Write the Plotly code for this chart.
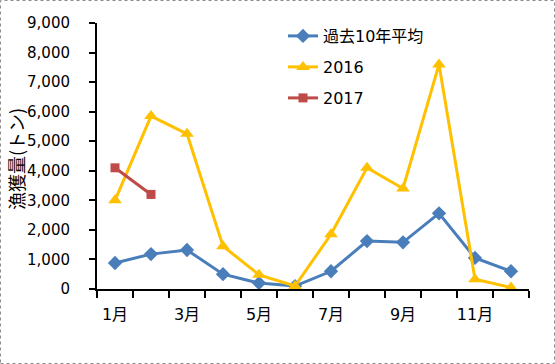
import plotly.graph_objects as go

months = ["1月", "2月", "3月", "4月", "5月", "6月", "7月", "8月", "9月", "10月", "11月", "12月"]
tick_text = ["1月", "", "3月", "", "5月", "", "7月", "", "9月", "", "11月", ""]
avg10 = [880, 1180, 1320, 500, 200, 100, 600, 1620, 1580, 2560, 1050, 600]
y2016 = [3000, 5850, 5250, 1450, 480, 100, 1850, 4100, 3400, 7600, 330, 50]
y2017 = [4100, 3200]
series_names = ["過去10年平均", "2016", "2017"]
y_title = "漁獲量(トン)"

FONT = "DejaVu Sans, Noto Sans CJK JP"

L, R, T, B = 97, 26, 23, 75
W, H = 555, 364
pw, ph = W - L - R, H - T - B


def py(y_pix):
    return (H - B - y_pix) / ph


def px(x_pix):
    return (x_pix - L) / pw


fig = go.Figure()
fig.add_trace(go.Scatter(x=months, y=avg10, name=series_names[0], mode="lines+markers",
                         line=dict(color="#4A7EBB", width=3),
                         marker=dict(symbol="diamond", size=11, color="#4A7EBB"),
                         legend="legend"))
fig.add_trace(go.Scatter(x=months, y=y2016, name=series_names[1], mode="lines+markers",
                         line=dict(color="#FFC000", width=3),
                         marker=dict(symbol="triangle-up", size=12, color="#FFC000"),
                         legend="legend2"))
fig.add_trace(go.Scatter(x=months[:len(y2017)], y=y2017, name=series_names[2], mode="lines+markers",
                         line=dict(color="#BE4B48", width=3),
                         marker=dict(symbol="square", size=9, color="#BE4B48"),
                         legend="legend3"))

leg_common = dict(xanchor="left", yanchor="middle", bgcolor="rgba(0,0,0,0)",
                  font=dict(size=16, family=FONT), itemwidth=30)

fig.update_layout(
    width=W, height=H,
    margin=dict(l=L, r=R, t=T, b=B, autoexpand=False),
    paper_bgcolor="white", plot_bgcolor="white",
    font=dict(family=FONT, size=15, color="black"),
    showlegend=True,
    legend=dict(x=px(283), y=py(36), **leg_common),
    legend2=dict(x=px(283), y=py(67), **leg_common),
    legend3=dict(x=px(283), y=py(98), **leg_common),
    xaxis=dict(type="category", categoryorder="array", categoryarray=months,
               range=[-0.5, len(months) - 0.5],
               tickvals=months, ticktext=tick_text, tickson="boundaries", tickangle=0,
               showline=True, linecolor="black", linewidth=2,
               ticks="outside", ticklen=7, tickwidth=2, tickcolor="black",
               showgrid=False, zeroline=False, tickfont=dict(size=16),
               ticklabelstandoff=10, automargin=False),
    yaxis=dict(range=[0, 9000], dtick=1000, tickformat=",d",
               showline=True, linecolor="black", linewidth=2,
               ticks="outside", ticklen=6, tickwidth=2, tickcolor="black",
               showgrid=False, zeroline=False, tickfont=dict(size=15),
               ticklabelstandoff=16, automargin=False),
    annotations=[dict(text=y_title, xref="paper", yref="paper", x=px(16), y=py(159),
                      xanchor="center", yanchor="middle", showarrow=False, textangle=-90,
                      font=dict(size=18, family="Noto Sans CJK JP", color="black"))],
    shapes=[dict(type="rect", xref="paper", yref="paper",
                 x0=px(0.5), x1=px(W - 0.5),
                 y0=py(H - 0.5), y1=py(0.5),
                 line=dict(color="#8C8C8C", width=1, dash="dot"), layer="below")],
)

fig.write_html("out.html", config={"displayModeBar": False},
               post_script="document.body.style.margin='0';document.body.style.overflow='hidden';")
